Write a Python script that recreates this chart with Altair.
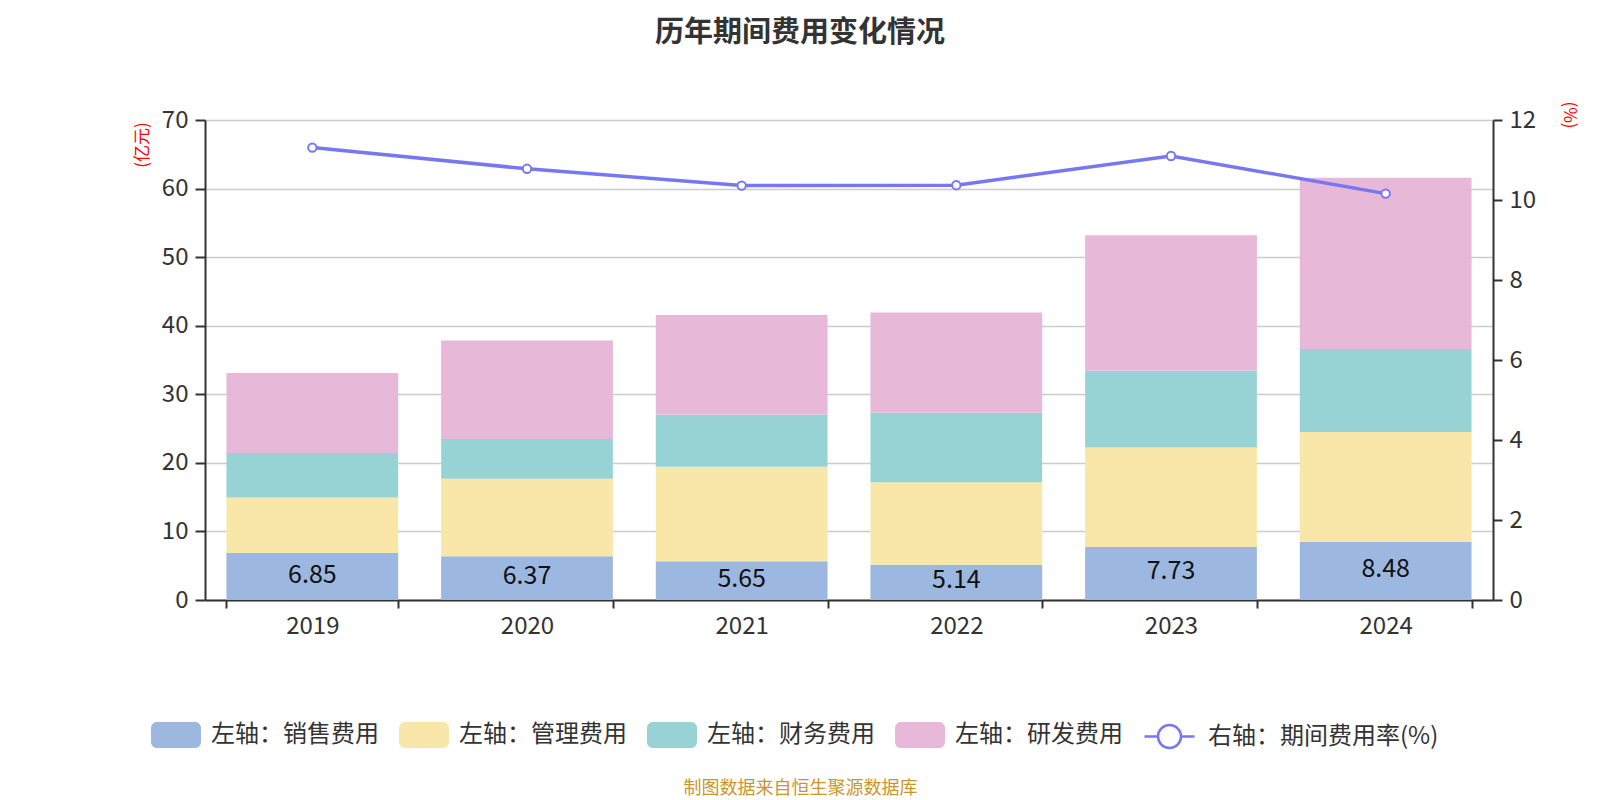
import altair as alt
import pandas as pd

years = ["2019", "2020", "2021", "2022", "2023", "2024"]
sales = [6.85, 6.37, 5.65, 5.14, 7.73, 8.48]
mgmt = [8.10, 11.30, 13.78, 12.05, 14.52, 16.01]
fin = [6.47, 5.80, 7.59, 10.12, 11.20, 12.12]
rd = [11.68, 14.36, 14.56, 14.61, 19.76, 24.98]
rate = [11.31, 10.78, 10.36, 10.37, 11.10, 10.16]

cats = ["左轴：销售费用", "左轴：管理费用", "左轴：财务费用", "左轴：研发费用"]
cat_colors = ["#9cb8e1", "#f8e7a9", "#97d3d4", "#e7b8d8"]
rate_name = "右轴：期间费用率(%)"
line_color = "#7777f2"
left_ticks = [0, 10, 20, 30, 40, 50, 60, 70]
right_ticks = [0, 2, 4, 6, 8, 10, 12]

rows = []
for i, yr in enumerate(years):
    for k, (c, vals) in enumerate(zip(cats, [sales, mgmt, fin, rd])):
        rows.append({"year": yr, "cat": c, "value": vals[i], "ord": k})
bar_df = pd.DataFrame(rows)
label_df = pd.DataFrame({"year": years, "sales": sales})
rate_df = pd.DataFrame({"year": years, "rate": rate, "name": [rate_name] * len(years)})

FONT = "Noto Sans CJK SC"

x_axis = alt.Axis(
    labelAngle=0, labelFontSize=24, labelColor="#333", labelPadding=6,
    domainColor="#333", domainWidth=2, tickColor="#333", tickWidth=2, tickSize=8,
    tickBand="extent", grid=False,
    title="制图数据来自恒生聚源数据库", titleFontSize=18, titleColor="#c8962e",
    titleFontWeight="normal", titleX=595, titleY=188, titleAlign="center",
    titleBaseline="middle", titleAngle=0,
)
x_enc = alt.X("year:N", sort=years,
              scale=alt.Scale(paddingInner=0.2, paddingOuter=0.1), axis=x_axis)

left_axis = alt.Axis(
    values=left_ticks, labelFontSize=24, labelColor="#333", labelPadding=7,
    domainColor="#333", domainWidth=2, tickColor="#333", tickWidth=2, tickSize=10,
    grid=True, gridColor="#cccccc", gridWidth=1.5,
    title="(亿元)", titleColor="#ff0000", titleFontSize=17, titleFontWeight="normal",
    titleX=-63, titleY=24.5, titleAlign="center", titleBaseline="middle", titleAngle=270,
)
right_axis = alt.Axis(
    values=right_ticks, orient="right", labelFontSize=24, labelColor="#333", labelPadding=7,
    domainColor="#333", domainWidth=2, tickColor="#333", tickWidth=2, tickSize=9,
    grid=False,
    title="(%)", titleColor="#ff0000", titleFontSize=17, titleFontWeight="normal",
    titleX=75, titleY=-5.5, titleAlign="center", titleBaseline="middle", titleAngle=90,
)

rect_path = ("M-0.76,-0.52 H0.76 A0.24,0.24 0 0 1 1,-0.28 V0.28 A0.24,0.24 0 0 1 0.76,0.52 "
             "H-0.76 A0.24,0.24 0 0 1 -1,0.28 V-0.28 A0.24,0.24 0 0 1 -0.76,-0.52 Z")
line_path = ("M-1,0 H-0.46 M0.46,0 H1 M0.46,0 A0.46,0.46 0 1 1 -0.46,0 "
             "A0.46,0.46 0 1 1 0.46,0")

bars = alt.Chart(bar_df).mark_bar().encode(
    x=x_enc,
    y=alt.Y("value:Q", stack="zero", scale=alt.Scale(domain=[0, 70]), axis=left_axis),
    color=alt.Color("cat:N", scale=alt.Scale(domain=cats, range=cat_colors),
                    legend=alt.Legend(
                        title=None, orient="none", legendX=-54, legendY=590,
                        direction="horizontal", symbolType=rect_path, symbolSize=2500,
                        symbolOpacity=1, symbolStrokeWidth=0, labelFontSize=24,
                        labelColor="#333", labelOffset=10, columnPadding=20,
                        labelLimit=400, padding=0)),
    order=alt.Order("ord:Q", sort="ascending"),
)

texts = alt.Chart(label_df).transform_calculate(mid="datum.sales / 2").mark_text(
    fontSize=25, color="#111", baseline="middle", dy=-2
).encode(
    x=x_enc,
    y=alt.Y("mid:Q", scale=alt.Scale(domain=[0, 70]), axis=left_axis),
    text=alt.Text("sales:Q", format=".2f"),
)

line = alt.Chart(rate_df).mark_line(color=line_color, strokeWidth=3.5).encode(
    x=x_enc,
    y=alt.Y("rate:Q", scale=alt.Scale(domain=[0, 12]), axis=right_axis),
)
points = alt.Chart(rate_df).mark_point(
    shape="circle", size=70, fill="white", strokeWidth=2, opacity=1
).encode(
    x=x_enc,
    y=alt.Y("rate:Q", scale=alt.Scale(domain=[0, 12]), axis=right_axis),
    color=alt.Color("name:N", scale=alt.Scale(domain=[rate_name], range=[line_color]),
                    legend=alt.Legend(
                        title=None, orient="none", legendX=938, legendY=590,
                        direction="horizontal", symbolType=line_path, symbolSize=2500,
                        symbolStrokeWidth=2.5, symbolFillColor="white",
                        labelFontSize=24, labelColor="#333", labelOffset=12,
                        labelLimit=400, padding=0)),
)

left = alt.layer(bars, texts)
right = alt.layer(line, points)

chart = alt.layer(left, right).resolve_scale(
    y="independent", color="independent"
).properties(
    width=1288, height=480,
    padding={"left": 197, "top": 112, "right": 99, "bottom": 200},
    autosize=alt.AutoSizeParams(type="none"),
    title=alt.TitleParams("历年期间费用变化情况", fontSize=29, fontWeight="bold",
                          color="#333", anchor="middle", frame="group", dx=-49, dy=-49),
).configure(
    font=FONT,
).configure_view(stroke=None)

chart.save("out.html", embed_options={"renderer": "svg", "actions": False})
